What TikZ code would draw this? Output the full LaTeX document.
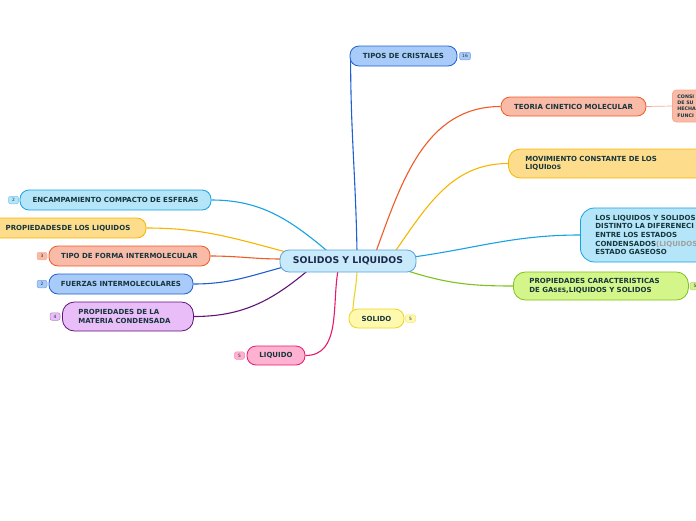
\documentclass[tikz,border=0pt]{standalone}
\usepackage{fontspec}
\setmainfont{DejaVu Sans}
\usepackage{tikz}

\pgfdeclarelayer{background}
\pgfsetlayers{background,main}

% branch colours
\definecolor{txtcol}{HTML}{16363C}
\definecolor{roottxt}{HTML}{1B2A4A}
\definecolor{rootfill}{HTML}{C8EAFB}
\definecolor{rootline}{HTML}{5BA4D9}
\definecolor{bluefill}{HTML}{A9CBF9}
\definecolor{blueline}{HTML}{1F5FD0}
\definecolor{redfill}{HTML}{F9BBA8}
\definecolor{redline}{HTML}{F05A28}
\definecolor{palered}{HTML}{F9A890}
\definecolor{orfill}{HTML}{FDDC8C}
\definecolor{orline}{HTML}{F7B500}
\definecolor{cyfill}{HTML}{B5E5F8}
\definecolor{cyline}{HTML}{17A2E3}
\definecolor{grfill}{HTML}{D4F58A}
\definecolor{grline}{HTML}{7DC11C}
\definecolor{yefill}{HTML}{FFF9B0}
\definecolor{yeline}{HTML}{EBD520}
\definecolor{pkfill}{HTML}{FFB1D2}
\definecolor{pkline}{HTML}{E8196B}
\definecolor{pufill}{HTML}{E8BDF8}
\definecolor{puline}{HTML}{5E1473}
\definecolor{graytxt}{HTML}{A0A0A0}

\begin{document}
\begin{tikzpicture}[x=1pt, y=-1pt,
    topic/.style 2 args={draw=#2, fill=#1, line width=0.8pt, rounded corners=9pt,
        inner sep=0pt, minimum height=20pt, text=txtcol,
        font=\fontsize{7}{8.6}\selectfont\bfseries},
    badge/.style 2 args={draw=#2, fill=#1, line width=0.5pt, rounded corners=2pt,
        inner sep=0pt, minimum width=10pt, minimum height=7.5pt, text=txtcol,
        font=\fontsize{4.4}{4.4}\selectfont},
    link/.style={line width=1.1pt, draw=#1}]

    % Page
    \useasboundingbox (0,0) rectangle (696,520);
    \clip (0,0) rectangle (696,520);

    % =========================================================================
    % Central topic
    % =========================================================================
    \node[topic={rootfill}{rootline}, minimum width=136pt, minimum height=22pt,
        text=roottxt, font=\fontsize{9.3}{10}\selectfont\bfseries]
        (root) at (348, 261) {SOLIDOS Y LIQUIDOS};

    % =========================================================================
    % Right side branches
    % =========================================================================
    \node[topic={bluefill}{blueline}, minimum width=107pt] (tipos) at (403.5, 56) {TIPOS DE CRISTALES};
    \node[badge={bluefill}{blueline!60}, minimum width=11pt] (tiposnum) at (465, 56) {16};

    \node[topic={redfill}{redline}, minimum width=145pt, minimum height=19pt] (teoria) at (573.5, 106.5) {TEORIA CINETICO MOLECULAR};
    \node[topic={redfill}{palered}, anchor=west, rounded corners=4pt, minimum height=32pt,
        inner xsep=5pt, text width=50pt, align=left,
        font=\fontsize{4.8}{6.3}\selectfont\bfseries] (consi) at (672, 106) {CONSI\\DE SU\\HECHA\\FUNCI};

    \node[topic={orfill}{orline}, anchor=west, minimum height=29pt, rounded corners=12pt,
        inner xsep=17pt, text width=200pt, align=left] (movim) at (508, 163.5)
        {MOVIMIENTO CONSTANTE DE LOS\\LIQUI{\fontsize{6}{8.6}\selectfont DOS}};

    \node[topic={cyfill}{cyline}, anchor=west, minimum height=54pt, rounded corners=14pt,
        inner xsep=15pt, text width=150pt, align=left] (diferen) at (580, 235)
        {LOS LIQUIDOS Y SOLIDOS\\DISTINTO LA DIFERENECI\\ENTRE LOS ESTADOS\\CONDENSADOS{\color{graytxt}(LIQUIDOS}\\ESTADO GASEOSO};

    \node[topic={grfill}{grline}, anchor=west, minimum height=28pt, minimum width=175pt, rounded corners=12pt,
        inner xsep=16pt, text width=143pt, align=left] (propcar) at (513, 286)
        {PROPIEDADES CARACTERISTICAS\\DE GA{\fontsize{6}{8.6}\selectfont SES},LIQUIDOS Y SOLIDOS};
    \node[badge={grfill}{grline!60}] (propcarnum) at (695, 286) {5};

    \node[topic={yefill}{yeline}, minimum width=55pt, minimum height=19pt] (solido) at (376.5, 318.5) {SOLIDO};
    \node[badge={yefill}{yeline!60}] (solidonum) at (410.5, 318.5) {5};

    % =========================================================================
    % Left side branches
    % =========================================================================
    \node[topic={pkfill}{pkline}, minimum width=58pt, minimum height=19pt] (liquido) at (276, 355.5) {LIQUIDO};
    \node[badge={pkfill}{pkline!50}] (liquidonum) at (239.5, 355.5) {5};

    \node[topic={cyfill}{cyline}, minimum width=191pt] (encamp) at (115.5, 200) {ENCAMPAMIENTO COMPACTO DE ESFERAS};
    \node[badge={cyfill}{cyline!60}] (encampnum) at (13.5, 200) {2};

    \node[topic={orfill}{orline}, minimum width=156pt] (propliq) at (68, 228) {PROPIEDADESDE LOS LIQUIDOS};

    \node[topic={redfill}{redline}, minimum width=161pt] (forma) at (129.5, 256) {TIPO DE FORMA INTERMOLECULAR};
    \node[badge={redfill}{redline!50}] (formanum) at (42, 256) {3};

    \node[topic={bluefill}{blueline}, minimum width=144pt] (fuerzas) at (121, 284) {FUERZAS INTERMOLECULARES};
    \node[badge={bluefill}{blueline!60}] (fuerzasnum) at (42, 284) {2};

    \node[topic={pufill}{puline}, anchor=west, minimum height=29pt, rounded corners=12pt,
        inner xsep=16pt, text width=99pt, align=left] (propmat) at (62, 316.5)
        {PROPIEDADES DE LA\\MATERIA CONDENSADA};
    \node[badge={pufill}{puline!50}] (propmatnum) at (55, 316.5) {4};

    % =========================================================================
    % Connectors (behind the nodes)
    % =========================================================================
    \begin{pgfonlayer}{background}
        \draw[link=blueline] ([xshift=9pt, yshift=-2pt]root.north) to[out=91, in=-90] ([xshift=1pt]tipos.west);
        \draw[link=redline] ([xshift=28pt, yshift=-2pt]root.north) to[out=70, in=180] (teoria.west);
        \draw[link=palered, line width=0.7pt] (teoria.east) -- (consi.west);
        \draw[link=orline] ([xshift=47pt, yshift=-2pt]root.north) to[out=55, in=180] (movim.west);
        \draw[link=cyline] ([xshift=-3pt, yshift=4pt]root.east) to[out=8, in=180] (diferen.west);
        \draw[link=grline] ([xshift=58pt, yshift=2pt]root.south) to[out=-18, in=180] (propcar.west);
        \draw[link=yeline] ([xshift=9pt, yshift=2pt]root.south) to[out=-92, in=90] ([xshift=4pt]solido.west);
        \draw[link=pkline] ([xshift=-10pt, yshift=2pt]root.south) to[out=-100, in=0] (liquido.east);
        \draw[link=puline] ([xshift=-40pt, yshift=2pt]root.south) to[out=-140, in=0] (propmat.east);
        \draw[link=blueline] ([xshift=4pt, yshift=-6pt]root.west) to[out=195, in=0] (fuerzas.east);
        \draw[link=redline] ([xshift=2pt, yshift=2pt]root.west) to[out=180, in=0] (forma.east);
        \draw[link=orline] ([xshift=5pt, yshift=-2pt]root.north west) to[out=165, in=0] (propliq.east);
        \draw[link=cyline] ([xshift=-20pt, yshift=-2pt]root.north) to[out=140, in=0] (encamp.east);
    \end{pgfonlayer}

\end{tikzpicture}
\end{document}
